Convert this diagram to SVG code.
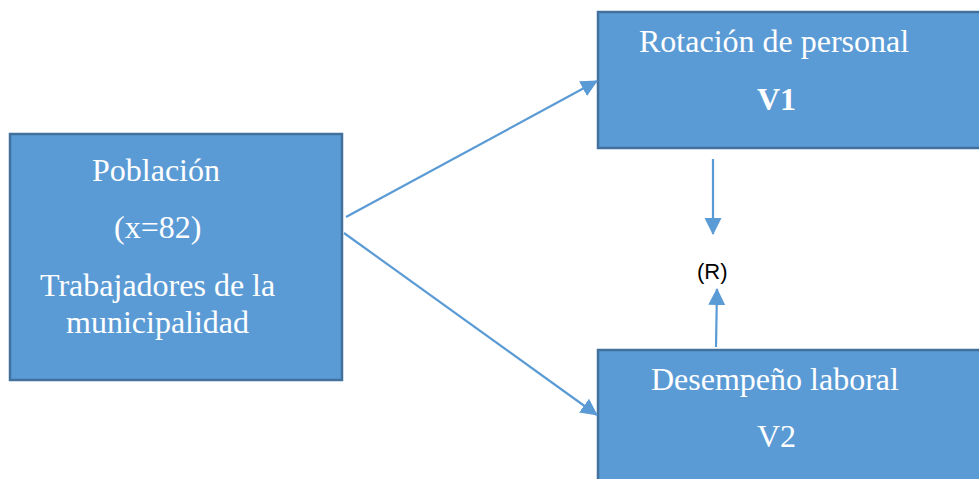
<svg xmlns="http://www.w3.org/2000/svg" width="979" height="479" viewBox="0 0 979 479">
<style>
.box{fill:#5B9BD5;stroke:#41719C;stroke-width:2.5}
.t{font-family:"Liberation Serif","Times New Roman",serif;font-size:32px;fill:#ffffff}
.b{font-weight:bold}
.c{stroke:#5B9BD5;stroke-width:2.2;fill:none;marker-end:url(#ah)}
.r{font-family:"Liberation Sans",Arial,sans-serif;font-size:22px;fill:#000000}
</style>
<defs>
<marker id="ah" markerUnits="userSpaceOnUse" markerWidth="17" markerHeight="17" viewBox="0 0 17 17" refX="16" refY="8.5" orient="auto">
<path d="M0,0 L17,8.5 L0,17 Z" fill="#5B9BD5"/>
</marker>
</defs>
<rect width="979" height="479" fill="#ffffff"/>
<g id="poblacion">
<rect class="box" x="10" y="134" width="332" height="246"/>
<text class="t" x="92" y="181">Población</text>
<text class="t" x="114" y="238">(x=82)</text>
<text class="t" x="40" y="296">Trabajadores de la</text>
<text class="t" x="66" y="333">municipalidad</text>
</g>
<g id="v1">
<rect class="box" x="598" y="12" width="400" height="136"/>
<text class="t" x="639" y="52">Rotación de personal</text>
<text class="t b" x="757" y="110">V1</text>
</g>
<g id="v2">
<rect class="box" x="598" y="350" width="400" height="140"/>
<text class="t" x="651" y="390">Desempeño laboral</text>
<text class="t" x="757" y="447">V2</text>
</g>
<g id="r">
<text class="r" x="697" y="279">(R)</text>
</g>
<g id="connectors">
<line class="c" x1="346" y1="217" x2="597" y2="81"/>
<line class="c" x1="344" y1="233" x2="597" y2="415"/>
<line class="c" x1="713" y1="159" x2="713" y2="234"/>
<line class="c" x1="716" y1="347" x2="717" y2="289"/>
</g>
</svg>
